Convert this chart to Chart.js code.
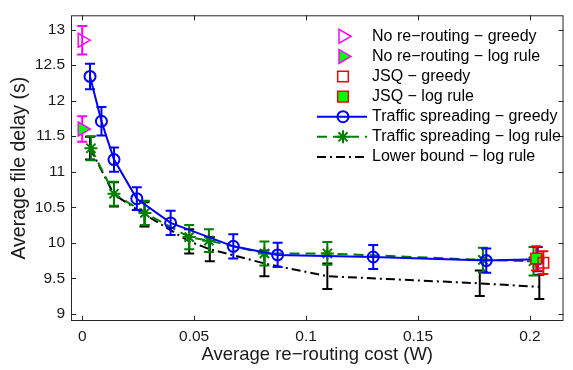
<!DOCTYPE html>
<html><head><meta charset="utf-8">
<script src="https://cdn.jsdelivr.net/npm/chart.js@4/dist/chart.umd.min.js"></script>
<style>html,body{margin:0;padding:0;background:#fff}#wrap{width:573px;height:370px;position:relative}</style>
</head><body><div id="wrap"><canvas id="c" width="573" height="370"></canvas></div>
<script>
// ---- tick values / labels ----
const xTicks = [0, 0.05, 0.1, 0.15, 0.2];
const xTickLabels = ['0', '0.05', '0.1', '0.15', '0.2'];
const yTicks = [9, 9.5, 10, 10.5, 11, 11.5, 12, 12.5, 13];
const yTickLabels = ['9', '9.5', '10', '10.5', '11', '11.5', '12', '12.5', '13'];

// ---- series labels ----
const seriesNames = [
  'No re\u2212routing \u2212 greedy',
  'No re\u2212routing \u2212 log rule',
  'JSQ \u2212 greedy',
  'JSQ \u2212 log rule',
  'Traffic spreading \u2212 greedy',
  'Traffic spreading \u2212 log rule',
  'Lower bound \u2212 log rule'
];

// ---- series values (x = avg re-routing cost, y = avg file delay, err = half error bar) ----
const noRerouteGreedyX = [0];
const noRerouteGreedyY = [12.85];
const noRerouteGreedyErr = [0.20];

const noRerouteLogX = [0];
const noRerouteLogY = [11.60];
const noRerouteLogErr = [0.18];

const jsqGreedyX = [0.206];
const jsqGreedyY = [9.72];
const jsqGreedyErr = [0.16];

const jsqLogX = [0.2028];
const jsqLogY = [9.78];
const jsqLogErr = [0.17];

const tsGreedyX = [0.0035, 0.0086, 0.0142, 0.0244, 0.0395, 0.0675, 0.0873, 0.1300, 0.1805, 0.2035];
const tsGreedyY = [12.34, 11.71, 11.17, 10.62, 10.28, 9.95, 9.83, 9.80, 9.75, 9.77];
const tsGreedyErr = [0.18, 0.20, 0.17, 0.16, 0.17, 0.17, 0.17, 0.17, 0.17, 0.17];

const tsLogX = [0.0039, 0.0142, 0.0280, 0.0478, 0.0566, 0.0814, 0.1095, 0.1790, 0.2016];
const tsLogY = [11.33, 10.69, 10.42, 10.08, 10.03, 9.85, 9.85, 9.76, 9.74];
const tsLogErr = [0.17, 0.17, 0.17, 0.17, 0.16, 0.17, 0.16, 0.17, 0.20];

const lowerX = [0.0035, 0.0142, 0.0278, 0.0478, 0.0570, 0.0814, 0.1095, 0.1776, 0.2042];
const lowerY = [11.33, 10.68, 10.40, 10.02, 9.91, 9.71, 9.53, 9.43, 9.38];
const lowerErr = [0.16, 0.17, 0.17, 0.17, 0.17, 0.18, 0.18, 0.18, 0.17];

function pts(xs, ys) { return xs.map((x, i) => ({x: x, y: ys[i]})); }

const FONT = 'Liberation Sans, Arial, Helvetica, sans-serif';
const MAG = '#ff00ff', RED = '#ff0000', BLUE = '#0000ff', DGREEN = '#008000', LGREEN = '#00ff00', BLK = '#000000';

const datasets = [
  {label: seriesNames[0], data: pts(noRerouteGreedyX, noRerouteGreedyY), err: noRerouteGreedyErr,
   showLine: false, pointStyle: 'triangle', rotation: 90, pointRadius: 8, pointBorderWidth: 1.5,
   borderColor: MAG, backgroundColor: 'rgba(0,0,0,0)', pointBackgroundColor: 'rgba(0,0,0,0)', order: 2},
  {label: seriesNames[1], data: pts(noRerouteLogX, noRerouteLogY), err: noRerouteLogErr,
   showLine: false, pointStyle: 'triangle', rotation: 90, pointRadius: 8, pointBorderWidth: 1.5,
   borderColor: MAG, backgroundColor: LGREEN, pointBackgroundColor: LGREEN, order: 1},
  {label: seriesNames[2], data: pts(jsqGreedyX, jsqGreedyY), err: jsqGreedyErr,
   showLine: false, pointStyle: 'rect', pointRadius: 7.5, pointBorderWidth: 1.5,
   borderColor: RED, backgroundColor: 'rgba(0,0,0,0)', pointBackgroundColor: 'rgba(0,0,0,0)', order: 3},
  {label: seriesNames[3], data: pts(jsqLogX, jsqLogY), err: jsqLogErr,
   showLine: false, pointStyle: 'rect', pointRadius: 7.5, pointBorderWidth: 1.5,
   borderColor: RED, backgroundColor: LGREEN, pointBackgroundColor: LGREEN, order: 4},
  {label: seriesNames[4], data: pts(tsGreedyX, tsGreedyY), err: tsGreedyErr,
   showLine: true, borderColor: BLUE, borderWidth: 2, pointStyle: 'circle', pointRadius: 5.5, pointBorderWidth: 2,
   backgroundColor: 'rgba(0,0,0,0)', pointBackgroundColor: 'rgba(0,0,0,0)', order: 5},
  {label: seriesNames[5], data: pts(tsLogX, tsLogY), err: tsLogErr,
   showLine: true, borderColor: DGREEN, borderWidth: 2, borderDash: [10, 6], pointStyle: 'star', pointRadius: 6.5,
   pointBorderWidth: 2, backgroundColor: 'rgba(0,0,0,0)', pointBackgroundColor: 'rgba(0,0,0,0)', order: 6},
  {label: seriesNames[6], data: pts(lowerX, lowerY), err: lowerErr,
   showLine: true, borderColor: BLK, borderWidth: 2, borderDash: [9, 4, 2, 4], pointRadius: 0,
   backgroundColor: 'rgba(0,0,0,0)', order: 7}
];

// error bars drawn under each dataset's markers
const errorBarPlugin = {
  id: 'errorBars',
  beforeDatasetDraw(chart, args) {
    const ds = chart.data.datasets[args.index];
    if (!ds.err) return;
    const xs = chart.scales.x, ys = chart.scales.y, ctx = chart.ctx;
    ctx.save();
    ctx.beginPath();
    ctx.rect(chart.chartArea.left, chart.chartArea.top, chart.chartArea.width, chart.chartArea.height);
    ctx.clip();
    ctx.strokeStyle = ds.borderColor;
    ctx.lineWidth = 2;
    ctx.setLineDash([]);
    const cap = 5;
    ds.data.forEach((p, i) => {
      const px = xs.getPixelForValue(p.x);
      const y1 = ys.getPixelForValue(p.y + ds.err[i]);
      const y2 = ys.getPixelForValue(p.y - ds.err[i]);
      ctx.beginPath();
      ctx.moveTo(px, y1); ctx.lineTo(px, y2);
      ctx.moveTo(px - cap, y1); ctx.lineTo(px + cap, y1);
      ctx.moveTo(px - cap, y2); ctx.lineTo(px + cap, y2);
      ctx.stroke();
    });
    ctx.restore();
  }
};

// MATLAB-like box with inward ticks
const framePlugin = {
  id: 'frame',
  afterDraw(chart) {
    const {ctx, chartArea: a} = chart;
    const xs = chart.scales.x, ys = chart.scales.y;
    ctx.save();
    ctx.strokeStyle = '#262626';
    ctx.lineWidth = 1;
    ctx.setLineDash([]);
    ctx.strokeRect(a.left + 0.5, a.top + 0.5, a.right - a.left - 1, a.bottom - a.top - 1);
    const tl = 5;
    ctx.beginPath();
    xTicks.forEach(v => {
      const px = Math.round(xs.getPixelForValue(v)) + 0.5;
      ctx.moveTo(px, a.bottom); ctx.lineTo(px, a.bottom - tl);
      ctx.moveTo(px, a.top); ctx.lineTo(px, a.top + tl);
    });
    yTicks.forEach(v => {
      const py = Math.round(ys.getPixelForValue(v)) + 0.5;
      ctx.moveTo(a.left, py); ctx.lineTo(a.left + tl, py);
      ctx.moveTo(a.right, py); ctx.lineTo(a.right - tl, py);
    });
    ctx.stroke();
    ctx.restore();
  }
};

// MATLAB-like legend inside the axes (line sample + marker + text)
const legendPlugin = {
  id: 'matlabLegend',
  afterDraw(chart) {
    const ctx = chart.ctx, a = chart.chartArea;
    const x0 = 317, x1 = 367, xm = 343, xt = 372;
    let y = a.top + 21;
    const step = 20.1;
    ctx.save();
    chart.data.datasets.forEach(ds => {
      if (ds.showLine) {
        ctx.beginPath();
        ctx.strokeStyle = ds.borderColor;
        ctx.lineWidth = ds.borderWidth || 2;
        ctx.setLineDash(ds.borderDash || []);
        ctx.moveTo(x0, y); ctx.lineTo(x1, y);
        ctx.stroke();
        ctx.setLineDash([]);
      }
      if (ds.pointRadius > 0) {
        ctx.strokeStyle = ds.borderColor;
        ctx.fillStyle = ds.pointBackgroundColor || 'rgba(0,0,0,0)';
        ctx.lineWidth = ds.pointBorderWidth || 1;
        ctx.setLineDash([]);
        Chart.helpers.drawPoint(ctx, {pointStyle: ds.pointStyle, rotation: ds.rotation || 0,
          radius: ds.pointRadius, borderWidth: ds.pointBorderWidth || 1}, xm, y);
      }
      ctx.fillStyle = '#000';
      ctx.font = '16px ' + FONT;
      ctx.textBaseline = 'middle';
      ctx.textAlign = 'left';
      ctx.fillText(ds.label, xt, y);
      y += step;
    });
    ctx.restore();
  }
};

new Chart(document.getElementById('c'), {
  type: 'scatter',
  data: {datasets: datasets},
  plugins: [errorBarPlugin, framePlugin, legendPlugin],
  options: {
    responsive: false,
    animation: false,
    layout: {padding: {top: 6, right: 1, left: 0, bottom: 0}},
    plugins: {legend: {display: false}, tooltip: {enabled: false}},
    scales: {
      x: {
        type: 'linear', position: 'bottom', min: -0.005, max: 0.215,
        afterBuildTicks: s => { s.ticks = xTicks.map(v => ({value: v})); },
        afterFit: s => { s.height = 49; },
        grid: {display: false, drawTicks: false},
        border: {display: false},
        ticks: {autoSkip: false, maxRotation: 0, padding: 6, color: '#1a1a1a',
          font: {family: FONT, size: 15.5},
          callback: v => xTickLabels[xTicks.indexOf(v)]},
        title: {display: true, text: 'Average re\u2212routing cost (W)', color: '#1a1a1a',
          font: {family: FONT, size: 18.5}, padding: {top: 2, bottom: 4}}
      },
      y: {
        type: 'linear', position: 'left', min: 8.9, max: 13.2,
        afterBuildTicks: s => { s.ticks = yTicks.map(v => ({value: v})); },
        afterFit: s => { s.width = 71; },
        grid: {display: false, drawTicks: false},
        border: {display: false},
        ticks: {autoSkip: false, padding: 6, color: '#1a1a1a',
          font: {family: FONT, size: 15.5},
          callback: v => yTickLabels[yTicks.indexOf(v)]},
        title: {display: true, text: 'Average file delay (s)', color: '#1a1a1a',
          font: {family: FONT, size: 19.5}, padding: {top: 8, bottom: 0}}
      }
    }
  }
});
</script>
</body></html>
